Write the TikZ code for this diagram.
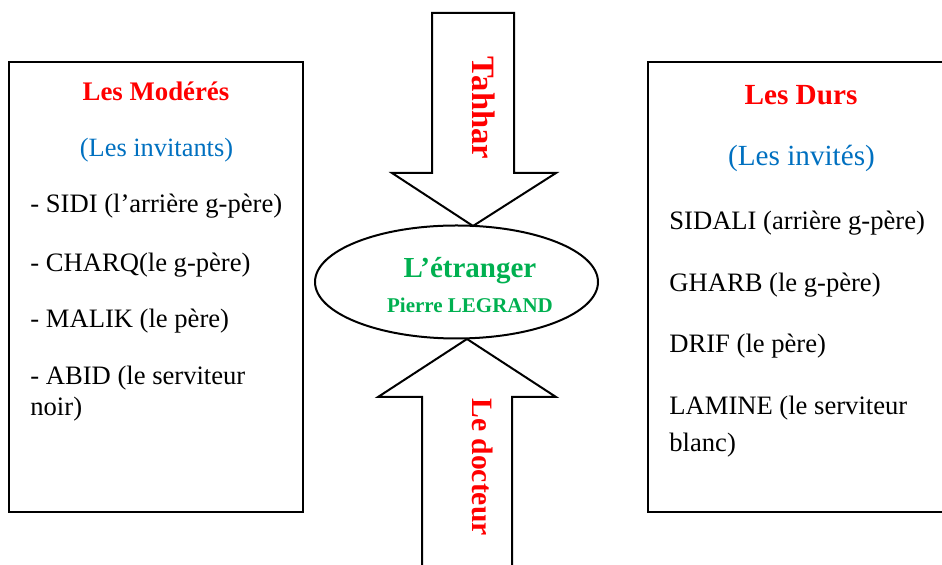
\documentclass[tikz,border=0pt]{standalone}
\usepackage{fontspec}
\setmainfont{Liberation Serif}
\usetikzlibrary{shapes.geometric}
\definecolor{hred}{RGB}{255,0,0}
\definecolor{hblue}{RGB}{0,112,192}
\definecolor{hgreen}{RGB}{0,176,80}
\tikzset{
  frame/.style={draw=black,line width=1pt},
  item/.style={anchor=west,inner sep=0pt,font=\fontsize{13.3}{16}\selectfont},
  headr/.style={inner sep=0pt,text=hred,font=\bfseries\fontsize{#1}{16}\selectfont},
  headb/.style={inner sep=0pt,text=hblue,font=\fontsize{#1}{16}\selectfont},
  vlabel/.style={inner sep=0pt,rotate=-90,text=hred,font=\bfseries\fontsize{#1}{18}\selectfont},
}
\begin{document}
\begin{tikzpicture}[x=0.5pt,y=-0.5pt]
\useasboundingbox (0,0) rectangle (942,565);
% boxes
\draw[frame] (9,62) rectangle (303,512);
\draw[frame] (648,62) rectangle (950,512);
% ellipse
\node[frame,ellipse,minimum width=141.5pt,minimum height=56.5pt,inner sep=0pt] (etr) at (456.5,282) {};
% arrows
\draw[frame,line join=miter] (432,13) -- (514,13) -- (514,173) -- (556,173) -- (473,226) -- (392,173) -- (432,173) -- cycle;
\draw[frame,line join=miter] (467,339) -- (556,397) -- (512,397) -- (512,580) -- (422,580) -- (422,397) -- (378,397) -- cycle;
\node[vlabel=16.3] (tahhar) at (484,108) {Tahhar};
\node[vlabel=14.8] (doc) at (483,467) {Le docteur};
% centre
\node[inner sep=0pt,text=hgreen,font=\bfseries\fontsize{14.5}{16}\selectfont] (et) at (470,271) {L’étranger};
\node[inner sep=0pt,text=hgreen,font=\bfseries\fontsize{10.5}{12}\selectfont] (pl) at (470,305) {Pierre LEGRAND};
% left
\node[headr=13.4] (lm) at (156,91) {Les Modérés};
\node[headb=13.2] (li) at (156.5,150) {(Les invitants)};
\node[item] (l1) at (30,206) {- SIDI (l’arrière g-père)};
\node[item] (l2) at (30,265) {- CHARQ(le g-père)};
\node[item] (l3) at (30,321) {- MALIK (le père)};
\node[item] (l4) at (30,378) {- ABID (le serviteur};
\node[item] (l5) at (30,409) {noir)};
% right
\node[headr=14.6] (rd) at (801,95) {Les Durs};
\node[headb=14.6] (ri) at (801.5,158) {(Les invités)};
\node[item] (r1) at (669,223) {SIDALI (arrière g-père)};
\node[item] (r2) at (669,285) {GHARB (le g-père)};
\node[item] (r3) at (669,346) {DRIF (le père)};
\node[item] (r4) at (669,408) {LAMINE (le serviteur};
\node[item] (r5) at (669,445) {blanc)};
\end{tikzpicture}
\end{document}
